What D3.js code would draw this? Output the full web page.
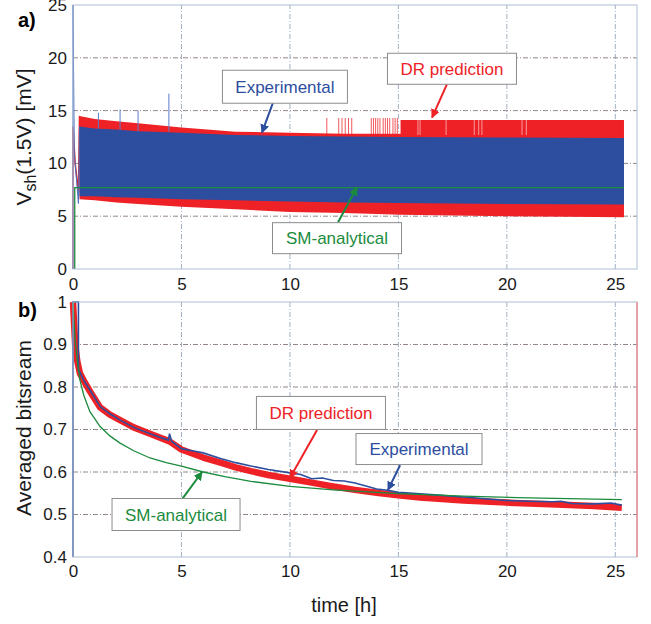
<!DOCTYPE html>
<html>
<head>
<meta charset="utf-8">
<script src="https://cdn.jsdelivr.net/npm/d3@7/dist/d3.min.js"></script>
<style>
    body { margin: 0; background: #fff; }
    svg { display: block; }
    text { font-family: Arial, "Liberation Sans", sans-serif; }
</style>
</head>
<body>
<div id="chart"><svg></svg></div>
<script>
// ---- panel a) : shunt voltage envelopes [mV] vs hours
var redHours   = [0.3, 1, 2, 3, 5, 7.5, 10, 12.5, 15.1, 15.1, 20, 25.4];
var redTop     = [14.5, 14.2, 14.0, 13.8, 13.4, 13.0, 12.9, 12.8, 12.8, 14.1, 14.1, 14.1];
var redBottom  = [6.6, 6.5, 6.3, 6.15, 5.9, 5.65, 5.4, 5.3, 5.13, 5.13, 5.0, 4.9];

var blueHours  = [0.3, 1, 2, 3, 5, 7.5, 10, 12.5, 15, 20, 25.4];
var blueTop    = [13.5, 13.3, 13.2, 13.05, 12.9, 12.7, 12.6, 12.55, 12.5, 12.45, 12.4];
var blueBottom = [6.9, 6.9, 6.8, 6.75, 6.6, 6.5, 6.4, 6.3, 6.25, 6.15, 6.1];

var blueStartHours = [0, 0, 0.06, 0.25, 0.3];
var blueStartV     = [0, 25, 11, 6.2, 13.5];
var redStartHours  = [0, 0, 0.1, 0.25, 0.3];
var redStartV      = [0, 13.5, 10, 7.3, 14.5];

var blueSpikeHours = [1.17, 2.17, 3.0, 4.42];
var blueSpikeTops  = [14.8, 15.1, 15.0, 16.6];
var redSpikeHours  = [11.7, 12.25, 12.4, 12.55, 12.7, 12.85, 13.75, 13.85, 13.95, 14.05,
                      14.15, 14.3, 14.4, 14.5, 14.6, 14.75, 14.85, 14.95];
var redSpikeTop    = 14.3;
var redGapHours    = [15.9, 16.0, 17.2, 18.5, 18.7, 18.85, 20.7, 20.9];

var smTopHours = [0.08, 0.08, 25.4];
var smTopV     = [0, 7.7, 7.7];

// ---- panel b) : averaged bitstream vs hours
var expHours = [0, 0, 0.25, 0.25, 0.32, 0.5, 0.78, 1.25, 1.7, 2.17,
                2.8, 3.55, 4.0, 4.4, 4.45, 4.55, 5, 5.5, 6, 6.8,
                7.5, 8.2, 9, 10, 10.5, 11, 11.5, 12, 12.5, 13,
                13.5, 14, 14.5, 15, 16, 17, 18.3, 19, 20, 21,
                22.1, 22.5, 23, 24, 24.8, 25.3];
var expValues = [0.4, 1, 1, 0.84, 0.835, 0.815, 0.793, 0.754, 0.737, 0.722,
                 0.705, 0.69, 0.682, 0.675, 0.69, 0.672, 0.655, 0.65, 0.645, 0.632,
                 0.622, 0.614, 0.606, 0.598, 0.594, 0.584, 0.586, 0.58, 0.579, 0.574,
                 0.567, 0.56, 0.557, 0.552, 0.549, 0.545, 0.54, 0.537, 0.533, 0.531,
                 0.53, 0.531, 0.526, 0.525, 0.527, 0.522];

var drHours  = [0, 0.1, 0.2, 0.32, 0.55, 0.78, 1.25, 1.7, 2.17, 2.8,
                3.55, 4.45, 5, 6, 6.8, 7.5, 8.2, 9, 10, 11,
                12, 13, 14, 15, 16, 18, 20, 22, 24, 25.3];
var drValues = [1, 0.9, 0.86, 0.832, 0.81, 0.79, 0.752, 0.735, 0.722, 0.705,
                0.69, 0.672, 0.653, 0.634, 0.622, 0.611, 0.602, 0.593, 0.584, 0.575,
                0.566, 0.558, 0.551, 0.545, 0.54, 0.533, 0.528, 0.524, 0.52, 0.516];

var smHours  = [0, 0.05, 0.1, 0.2, 0.32, 0.5, 0.78, 1.25, 1.7, 2.17,
                2.8, 3.55, 4.3, 5, 6, 7, 8.2, 10, 12, 15,
                18, 21, 25.3];
var smValues = [1, 0.95, 0.91, 0.86, 0.816, 0.78, 0.742, 0.707, 0.685, 0.668,
                0.65, 0.633, 0.622, 0.614, 0.6, 0.589, 0.578, 0.566, 0.558, 0.549,
                0.543, 0.539, 0.535];

var hourTicks = [0, 5, 10, 15, 20, 25];
var vshTicks  = [0, 5, 10, 15, 20, 25];
var bitTicks  = [0.4, 0.5, 0.6, 0.7, 0.8, 0.9, 1];

var colors = { exp: '#2d4e9f', dr: '#ee2226', sm: '#1b8b3d' };

var svg = d3.select('#chart svg')
    .attr('width', 651)
    .attr('height', 624);

var x = d3.scaleLinear().domain([0, 26]).range([73, 637]);
var yTop = d3.scaleLinear().domain([0, 25]).range([269, 5]);
var yBot = d3.scaleLinear().domain([0.4, 1]).range([557, 302]);

// arrow heads
var defs = svg.append('defs');
Object.keys(colors).forEach(function(k) {
    defs.append('marker')
        .attr('id', 'arrow-' + k)
        .attr('viewBox', '0 0 10 10')
        .attr('refX', 9).attr('refY', 5)
        .attr('markerWidth', 9).attr('markerHeight', 9)
        .attr('markerUnits', 'userSpaceOnUse')
        .attr('orient', 'auto')
        .append('path')
        .attr('d', 'M0,0 L10,5 L0,10 z')
        .attr('fill', colors[k]);
});

function zip(ts, vs) {
    return ts.map(function(t, i) { return { t: t, v: vs[i] }; });
}

function drawGrid(g, y, yTicks) {
    g.selectAll('.hgrid')
        .data(yTicks.slice(1, -1))
        .enter().append('line')
        .attr('x1', x(0)).attr('x2', x(26))
        .attr('y1', function(d) { return y(d); })
        .attr('y2', function(d) { return y(d); })
        .attr('stroke', '#7a6868')
        .attr('stroke-width', 0.8)
        .attr('stroke-dasharray', '5,2,1,2');

    g.selectAll('.vgrid')
        .data(hourTicks.slice(1))
        .enter().append('line')
        .attr('y1', y.range()[0]).attr('y2', y.range()[1])
        .attr('x1', function(d) { return x(d); })
        .attr('x2', function(d) { return x(d); })
        .attr('stroke', '#8a9cb4')
        .attr('stroke-width', 0.8)
        .attr('stroke-dasharray', '5,2,1,2');
}

function drawAxes(g, y, yTicks, xPad) {
    g.append('rect')
        .attr('x', x(0)).attr('y', y.range()[1])
        .attr('width', x(26) - x(0))
        .attr('height', y.range()[0] - y.range()[1])
        .attr('fill', 'none')
        .attr('stroke', '#aebfd4')
        .attr('stroke-width', 1);

    var ya = g.append('g')
        .attr('transform', 'translate(' + x(0) + ',0)')
        .call(d3.axisLeft(y).tickValues(yTicks).tickSize(0).tickPadding(6)
            .tickFormat(function(d) { return String(d); }));
    ya.select('.domain').remove();

    var xa = g.append('g')
        .attr('transform', 'translate(0,' + y.range()[0] + ')')
        .call(d3.axisBottom(x).tickValues(hourTicks).tickSize(0).tickPadding(xPad)
            .tickFormat(function(d) { return String(d); }));
    xa.select('.domain').remove();

    g.selectAll('.tick text')
        .attr('font-size', 17)
        .attr('font-family', 'Arial, "Liberation Sans", sans-serif')
        .attr('fill', '#1a1a1a');
}

function callout(g, y, c) {
    g.append('line')
        .attr('x1', x(c.from[0])).attr('y1', y(c.from[1]))
        .attr('x2', x(c.to[0])).attr('y2', y(c.to[1]))
        .attr('stroke', colors[c.key])
        .attr('stroke-width', 2)
        .attr('marker-end', 'url(#arrow-' + c.key + ')');

    var cx = x(c.box[0]), cy = y(c.box[1]);
    g.append('rect')
        .attr('x', cx - c.w / 2).attr('y', cy - c.h / 2)
        .attr('width', c.w).attr('height', c.h)
        .attr('fill', '#fff')
        .attr('stroke', '#8c8c8c')
        .attr('stroke-width', 1);
    g.append('text')
        .attr('x', cx).attr('y', cy)
        .attr('dy', '0.36em')
        .attr('text-anchor', 'middle')
        .attr('font-size', 17)
        .attr('fill', colors[c.key])
        .text(c.label);
}

// ================= panel a)
var ga = svg.append('g').attr('id', 'panel-a');
drawGrid(ga, yTop, vshTicks);

var band = d3.area()
    .x(function(d) { return x(d.t); })
    .y0(function(d) { return yTop(d.lo); })
    .y1(function(d) { return yTop(d.hi); });

var redBand = redHours.map(function(t, i) { return { t: t, hi: redTop[i], lo: redBottom[i] }; });
var blueBand = blueHours.map(function(t, i) { return { t: t, hi: blueTop[i], lo: blueBottom[i] }; });

var lineTop = d3.line()
    .x(function(d) { return x(d.t); })
    .y(function(d) { return yTop(d.v); });

ga.append('path')
    .datum(zip(redStartHours, redStartV))
    .attr('d', lineTop)
    .attr('fill', 'none')
    .attr('stroke', colors.dr)
    .attr('stroke-width', 1.5);

ga.append('path')
    .datum(redBand)
    .attr('d', band)
    .attr('fill', colors.dr);

ga.selectAll('.red-spike')
    .data(redSpikeHours)
    .enter().append('line')
    .attr('x1', function(d) { return x(d); })
    .attr('x2', function(d) { return x(d); })
    .attr('y1', yTop(12.6))
    .attr('y2', yTop(redSpikeTop))
    .attr('stroke', colors.dr)
    .attr('stroke-opacity', 0.75)
    .attr('stroke-width', 1);

ga.selectAll('.red-gap')
    .data(redGapHours)
    .enter().append('line')
    .attr('x1', function(d) { return x(d); })
    .attr('x2', function(d) { return x(d); })
    .attr('y1', yTop(12.7))
    .attr('y2', yTop(14.1))
    .attr('stroke', '#fff')
    .attr('stroke-opacity', 0.45)
    .attr('stroke-width', 1.2);

ga.append('path')
    .datum(zip(blueStartHours, blueStartV))
    .attr('d', lineTop)
    .attr('fill', 'none')
    .attr('stroke', '#4a6fc0')
    .attr('stroke-width', 1);

ga.selectAll('.blue-spike')
    .data(blueSpikeHours)
    .enter().append('line')
    .attr('x1', function(d) { return x(d); })
    .attr('x2', function(d) { return x(d); })
    .attr('y1', yTop(13))
    .attr('y2', function(d, i) { return yTop(blueSpikeTops[i]); })
    .attr('stroke', '#5a7cc8')
    .attr('stroke-width', 1);

ga.append('path')
    .datum(blueBand)
    .attr('d', band)
    .attr('fill', colors.exp);

ga.append('path')
    .datum(zip(smTopHours, smTopV))
    .attr('d', lineTop)
    .attr('fill', 'none')
    .attr('stroke', colors.sm)
    .attr('stroke-width', 1.3);

drawAxes(ga, yTop, vshTicks, 9);

callout(ga, yTop, { key: 'exp', label: 'Experimental', box: [9.77, 17.26], w: 125, h: 33,
    from: [9.22, 15.75], to: [8.71, 12.92] });
callout(ga, yTop, { key: 'dr', label: 'DR prediction', box: [17.47, 18.96], w: 129, h: 31,
    from: [17.24, 17.5], to: [16.55, 14.34] });
callout(ga, yTop, { key: 'sm', label: 'SM-analytical', box: [12.17, 2.92], w: 129, h: 31,
    from: [12.22, 4.43], to: [13.09, 7.74] });

var ylab = ga.append('text')
    .attr('transform', 'translate(31,137) rotate(-90)')
    .attr('text-anchor', 'middle')
    .attr('font-size', 21)
    .attr('fill', '#1a1a1a');
ylab.append('tspan').text('V');
ylab.append('tspan').attr('dy', 5).attr('font-size', 16).text('sh');
ylab.append('tspan').attr('dy', -5).text('(1.5V) [mV]');

ga.append('text')
    .attr('x', 18).attr('y', 27)
    .attr('font-family', '"Liberation Serif", "Times New Roman", serif')
    .attr('font-weight', 'bold')
    .attr('font-size', 20)
    .text('a)');

// ================= panel b)
var gb = svg.append('g').attr('id', 'panel-b');
drawGrid(gb, yBot, bitTicks);

var lineBot = d3.line()
    .x(function(d) { return x(d.t); })
    .y(function(d) { return yBot(d.v); });

gb.append('path')
    .datum(zip(drHours, drValues))
    .attr('d', lineBot)
    .attr('fill', 'none')
    .attr('stroke', colors.dr)
    .attr('stroke-width', 6.5)
    .attr('stroke-linejoin', 'round');

gb.append('path')
    .datum(zip(expHours, expValues))
    .attr('d', lineBot)
    .attr('fill', 'none')
    .attr('stroke', colors.exp)
    .attr('stroke-width', 1.6);

gb.append('path')
    .datum(zip(smHours, smValues))
    .attr('d', lineBot)
    .attr('fill', 'none')
    .attr('stroke', colors.sm)
    .attr('stroke-width', 1.3);

drawAxes(gb, yBot, bitTicks, 8);

gb.append('line')
    .attr('x1', x(26)).attr('x2', x(26))
    .attr('y1', yBot(1)).attr('y2', yBot(0.4))
    .attr('stroke', '#f07a7a')
    .attr('stroke-width', 1.2);

callout(gb, yBot, { key: 'dr', label: 'DR prediction', box: [11.43, 0.739], w: 129, h: 33,
    from: [11.25, 0.699], to: [10.0, 0.586] });
callout(gb, yBot, { key: 'exp', label: 'Experimental', box: [15.95, 0.654], w: 126, h: 31,
    from: [15.08, 0.616], to: [14.52, 0.558] });
callout(gb, yBot, { key: 'sm', label: 'SM-analytical', box: [4.75, 0.5], w: 128, h: 32,
    from: [5.03, 0.536], to: [5.95, 0.6] });

gb.append('text')
    .attr('transform', 'translate(31,428) rotate(-90)')
    .attr('text-anchor', 'middle')
    .attr('font-size', 21)
    .attr('fill', '#1a1a1a')
    .text('Averaged bitsream');

gb.append('text')
    .attr('x', 18).attr('y', 317)
    .attr('font-family', '"Liberation Serif", "Times New Roman", serif')
    .attr('font-weight', 'bold')
    .attr('font-size', 20)
    .text('b)');

svg.append('text')
    .attr('x', 344).attr('y', 612)
    .attr('text-anchor', 'middle')
    .attr('font-size', 20)
    .attr('fill', '#1a1a1a')
    .text('time [h]');
</script>
</body>
</html>
